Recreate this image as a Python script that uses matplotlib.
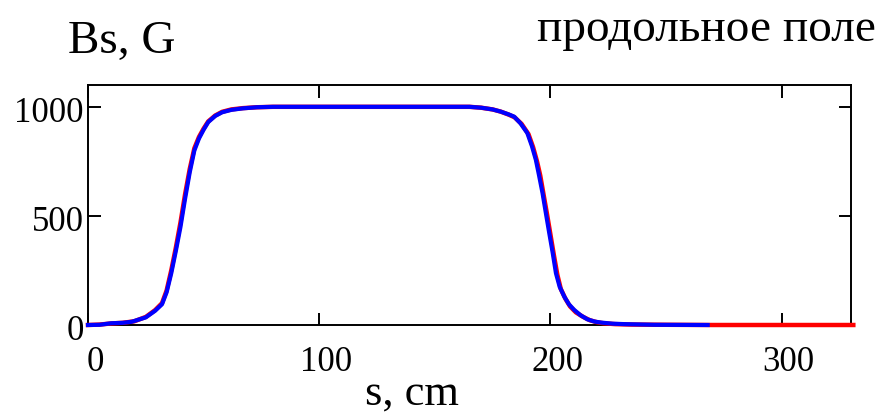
import matplotlib.pyplot as plt
from matplotlib.transforms import ScaledTranslation

# шрифт как в Mathcad (Times)
plt.rcParams['font.family'] = ['Liberation Serif', 'DejaVu Serif']

# продольное поле: измерение (красный) и модель (синий)
s_red = [0, 5, 10, 15, 20, 25, 29, 32, 34, 36, 38, 40, 42, 44, 46, 48, 50, 52, 55, 58,
         62, 67, 73, 80, 120, 165, 170, 175, 178.5, 182, 184.5, 187.5, 190.5, 192.5,
         194.2, 195.6, 197, 198.5, 200, 201.5, 203, 204.5, 206.5, 208.5, 211, 214,
         217, 220, 223, 228, 235, 250, 270, 300, 331]
bs_red = [0, 2, 7, 10, 17, 37, 68, 100, 158, 250, 355, 470, 600, 715, 810, 862, 900, 933,
          960, 977, 988, 994, 998, 1000, 1000, 1000, 996, 988, 978, 964, 952, 922, 875,
          815, 750, 685, 600, 510, 415, 320, 230, 165, 120, 85, 58, 38, 22, 13, 8, 4,
          2, 1, 0, 0, 0]

s_blue = [0, 5, 10, 15, 19, 25, 29, 32, 34, 36, 38, 40, 42, 44, 46, 48, 50, 52, 55, 58,
          62, 67, 73, 80, 120, 165, 170, 175, 178.5, 182, 184.3, 187, 190, 192, 193.7,
          195, 196.6, 198, 199.5, 201, 202.4, 204, 206, 208, 210.3, 213, 216, 219, 222,
          227, 232, 245, 268]
bs_blue = [0, 1, 8, 10, 15, 35, 65, 95, 150, 237, 340, 450, 580, 700, 800, 855, 895, 930,
           958, 975, 986, 993, 998, 1000, 1000, 1000, 996, 988, 978, 965, 955, 925, 880,
           820, 757, 690, 604, 515, 421, 330, 237, 175, 130, 95, 69, 45, 26, 16, 11, 6,
           4, 1, 0]

x_ticks = [0, 100, 200, 300]
y_ticks = [0, 500, 1000]

fig = plt.figure(figsize=(8.83, 4.15), dpi=100)
ax = fig.add_axes([88 / 883, 1 - 325 / 415, (851 - 88) / 883, (325 - 85) / 415])

ax.plot(s_red, bs_red, color='#ff0000', lw=3.2, clip_on=False, zorder=3)
ax.plot(s_blue, bs_blue, color='#0000ff', lw=3.0, clip_on=False, zorder=4)

ax.set_xlim(0, 330)
ax.set_ylim(0, 1100)
ax.set_xticks(x_ticks)
ax.set_yticks(y_ticks)
ax.tick_params(direction='in', length=9, width=1.4, top=True, right=True,
               labelsize=25)
ax.tick_params(axis='y', pad=3)
ax.tick_params(axis='x', pad=15)
for sp in ax.spines.values():
    sp.set_linewidth(1.4)

# в Mathcad подписи оси x чуть сдвинуты вправо, оси y - вниз
dx = ScaledTranslation(7 / 100, 0, fig.dpi_scale_trans)
for lab in ax.get_xticklabels():
    lab.set_transform(lab.get_transform() + dx)
dy = ScaledTranslation(0, -3 / 100, fig.dpi_scale_trans)
for lab in ax.get_yticklabels():
    lab.set_transform(lab.get_transform() + dy)

fig.text(68 / 883, 1 - 42 / 415, 'Bs, G', fontsize=34, ha='left', va='center')
fig.text(876 / 883, 1 - 30 / 415, 'продольное поле', fontsize=34, ha='right', va='center')
fig.text(412 / 883, 1 - 394 / 415, 's, cm', fontsize=32, ha='center', va='center')

fig.savefig('out.png', dpi=100)
